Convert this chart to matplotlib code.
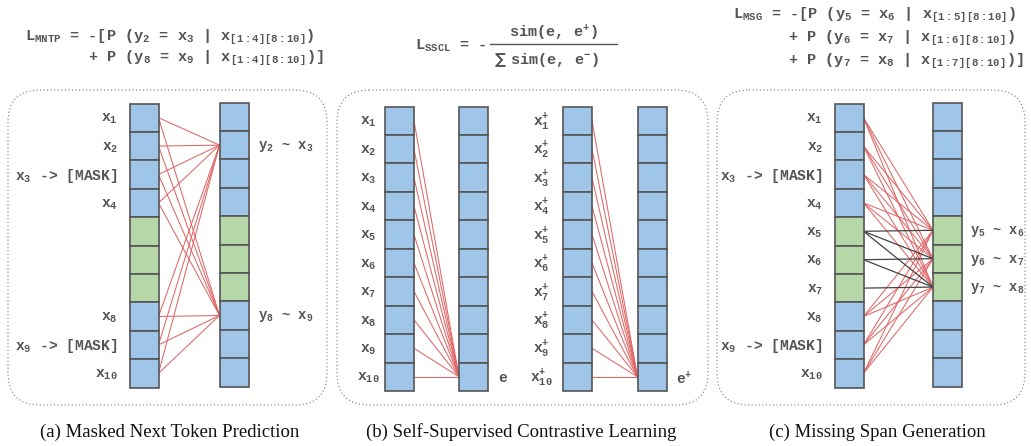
import matplotlib
matplotlib.use("Agg")
import matplotlib.pyplot as plt
from matplotlib.patches import Rectangle, FancyBboxPatch

plt.rcParams['mathtext.fontset'] = 'custom'
for k in ['rm', 'it', 'bf', 'sf', 'tt']:
    plt.rcParams['mathtext.' + k] = 'Liberation Mono:bold'
plt.rcParams['mathtext.default'] = 'it'

# ---------------- data ----------------
N_TOKENS = 10
# cell types per token position: 'b' = visible/blue, 'g' = span/green
mntp_cells = ['b', 'b', 'b', 'b', 'g', 'g', 'g', 'b', 'b', 'b']
sscl_cells = ['b'] * 10
msg_cells = ['b', 'b', 'b', 'b', 'g', 'g', 'g', 'b', 'b', 'b']

mntp_left_labels = {0: 'x$_{1}$', 1: 'x$_{2}$', 2: 'x$_{3}$ -> [MASK]', 3: 'x$_{4}$',
                    7: 'x$_{8}$', 8: 'x$_{9}$ -> [MASK]', 9: 'x$_{10}$'}
mntp_right_labels = {1: 'y$_{2}$ ~ x$_{3}$', 7: 'y$_{8}$ ~ x$_{9}$'}
mntp_sources = [0, 1, 2, 3, 7, 8, 9]
mntp_targets = [1, 7]

sscl_left_labels = {i: 'x$_{%d}$' % (i + 1) for i in range(10)}
sscl_pos_labels = {i: 'x$^{+}_{%d}$' % (i + 1) for i in range(10)}
sscl_sources = list(range(10))
sscl_target = 9

msg_left_labels = {0: 'x$_{1}$', 1: 'x$_{2}$', 2: 'x$_{3}$ -> [MASK]', 3: 'x$_{4}$',
                   4: 'x$_{5}$', 5: 'x$_{6}$', 6: 'x$_{7}$', 7: 'x$_{8}$',
                   8: 'x$_{9}$ -> [MASK]', 9: 'x$_{10}$'}
msg_right_labels = {4: 'y$_{5}$ ~ x$_{6}$', 5: 'y$_{6}$ ~ x$_{7}$', 6: 'y$_{7}$ ~ x$_{8}$'}
msg_red_sources = [0, 1, 2, 3, 7, 8, 9]
msg_targets = [4, 5, 6]
msg_span_edges = [(4, 4), (4, 5), (4, 6), (5, 5), (5, 6), (6, 6)]

captions = ['(a) Masked Next Token Prediction',
            '(b) Self-Supervised Contrastive Learning',
            '(c) Missing Span Generation']

# ---------------- styles ----------------
BLUE = '#9fc5e8'
GREEN = '#b6d7a8'
EDGE = '#555555'
RED = '#e06666'
DARK = '#444444'
TXT = '#555555'
MONO = 'Liberation Mono'
FS = 10.5

fig = plt.figure(figsize=(10.31, 4.46), dpi=100)
ax = fig.add_axes([0, 0, 1, 1])
ax.set_xlim(0, 1031)
ax.set_ylim(446, 0)
ax.axis('off')

COLW = 29


def column(x0, top, bottom, cells):
    h = (bottom - top) / len(cells)
    for i, c in enumerate(cells):
        ax.add_patch(Rectangle((x0, top + i * h), COLW, h,
                               facecolor=BLUE if c == 'b' else GREEN,
                               edgecolor=EDGE, linewidth=1.2, zorder=2))
    return lambda i: top + (i + 0.5) * h


def label(x, y, s, ha='right', fs=FS):
    ax.text(x, y + 1.5, s, ha=ha, va='center', fontsize=fs, color=TXT,
            family=MONO, fontweight='bold', zorder=3)


def box(x0, y0, x1, y1):
    ax.add_patch(FancyBboxPatch((x0, y0), x1 - x0, y1 - y0,
                                boxstyle='round,pad=0,rounding_size=32',
                                facecolor='none', edgecolor='#777777',
                                linewidth=0.8, linestyle=(0, (1, 2.2)), zorder=1))


def edge(x0, y0, x1, y1, color=RED, lw=0.75):
    ax.plot([x0, x1], [y0, y1], color=color, lw=lw, zorder=1.5,
            solid_capstyle='butt')


# panel boxes
box(8, 90, 327, 405)
box(337, 90, 708, 405)
box(717, 90, 1025, 405)

# ---- (a) MNTP ----
L0, R0 = 129.5, 219.5
cy_l = column(L0, 103.5, 387.5, mntp_cells)
cy_r = column(R0, 102.5, 386.5, mntp_cells)
for s in mntp_sources:
    for t in mntp_targets:
        edge(L0 + COLW, cy_l(s), R0, cy_r(t))
for i, s in mntp_left_labels.items():
    label(118, cy_l(i), s)
for i, s in mntp_right_labels.items():
    label(258, cy_r(i), s, ha='left', fs=10)

# ---- (b) SSCL ----
TOPB, BOTB = 106.5, 391
c1, c2, c3, c4 = 385, 459, 563, 637.5
cyb = column(c1, TOPB, BOTB, sscl_cells)
column(c2, TOPB, BOTB, sscl_cells)
column(c3, TOPB, BOTB, sscl_cells)
column(c4, TOPB, BOTB, sscl_cells)
for s in sscl_sources:
    edge(c1 + COLW, cyb(s), c2, cyb(sscl_target))
    edge(c3 + COLW, cyb(s), c4, cyb(sscl_target))
for i, s in sscl_left_labels.items():
    label(368, cyb(i), s, ha='center')
for i, s in sscl_pos_labels.items():
    label(541, cyb(i), s, ha='center')
label(498, cyb(sscl_target), 'e', ha='left')
label(676, cyb(sscl_target), 'e$^{+}$', ha='left')

# ---- (c) MSG ----
L2, R2 = 834.5, 933
cy_l2 = column(L2, 103.5, 387.5, msg_cells)
cy_r2 = column(R2, 102.5, 386.5, msg_cells)
for s in msg_red_sources:
    for t in msg_targets:
        edge(L2 + COLW, cy_l2(s), R2, cy_r2(t))
for s, t in msg_span_edges:
    edge(L2 + COLW, cy_l2(s), R2, cy_r2(t), color=DARK, lw=0.9)
for i, s in msg_left_labels.items():
    label(823, cy_l2(i), s)
for i, s in msg_right_labels.items():
    label(970, cy_r2(i), s, ha='left', fs=9.8)

# ---- formulas ----
FF = 11
def ftext(x, y, s, ha='left'):
    ax.text(x, y, s, ha=ha, va='center', fontsize=FF, color=TXT,
            family=MONO, fontweight='bold')

ftext(25, 37, 'L$_{MNTP}$ = -[P (y$_{2}$ = x$_{3}$ | x$_{[1:4][8:10]}$)')
ftext(88, 58, '+ P (y$_{8}$ = x$_{9}$ | x$_{[1:4][8:10]}$)]')

ftext(415, 46, 'L$_{SSCL}$ = -')
ftext(553, 33, 'sim(e, e$^{+}$)', ha='center')
ax.plot([490, 617], [43.5, 43.5], color=TXT, lw=1.0)
ax.text(500, 60, '\u2211', ha='center', va='center', fontsize=FF, color=TXT,
        family=['DejaVu Sans'], fontweight='bold')
ftext(510, 60, 'sim(e, e$^{-}$)')

ftext(733, 15, 'L$_{MSG}$ = -[P (y$_{5}$ = x$_{6}$ | x$_{[1:5][8:10]}$)')
ftext(788, 38, '+ P (y$_{6}$ = x$_{7}$ | x$_{[1:6][8:10]}$)')
ftext(788, 61, '+ P (y$_{7}$ = x$_{8}$ | x$_{[1:7][8:10]}$)]')

# ---- captions ----
for x, s in zip([170, 521, 877], captions):
    ax.text(x, 432, s, ha='center', va='center', fontsize=13.5,
            family='Liberation Serif', color='#111111')

fig.savefig('out.png', dpi=100)
